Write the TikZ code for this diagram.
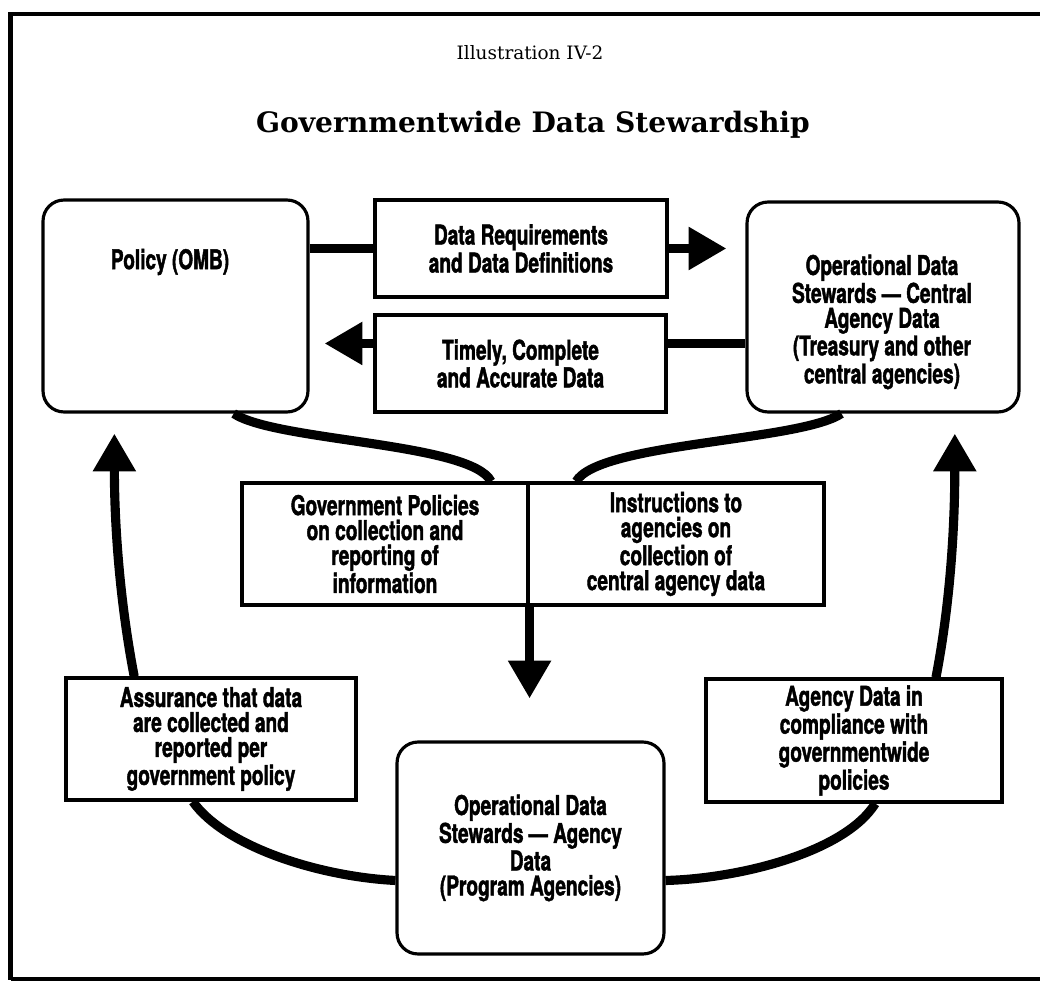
\documentclass[tikz,border=0pt]{standalone}
\usepackage{fontspec}
\usetikzlibrary{arrows.meta,calc}
% heavy condensed sans for the box texts, slab serif for the headings
\newfontfamily\boxfont[FakeStretch=0.7,FakeBold=1.5]{TeX Gyre Heros}
\newfontfamily\slabfont{DejaVu Serif}

\begin{document}
\begin{tikzpicture}[x=0.02cm, y=-0.02cm,
  lbl/.style={font=\boxfont\bfseries\fontsize{15.5}{14.2}\selectfont, align=center},
  rbox/.style={lbl, draw, line width=1.8pt, rounded corners=0.42cm, inner sep=0pt},
  sbox/.style={lbl, draw, line width=1.8pt, inner sep=0pt},
  link/.style={line width=5.2pt},
  flow/.style={link, -{Triangle[length=21.5pt, width=23.2pt]}},
  frame/.style={line width=2.8pt},
]
\useasboundingbox (0,0) rectangle (1040,982);

% outer frame
\draw[frame] (1040,14) -- (10.5,14) -- (10.5,980);
\draw[line width=1.8pt] (10.5,979) -- (1040,979);

% headings
\node[font=\slabfont\fontsize{10.5}{12}\selectfont] (ill) at (530,53) {Illustration IV-2};
\node[font=\slabfont\bfseries\fontsize{16}{19}\selectfont] (title) at (533,125) {Governmentwide Data Stewardship};

% upper row
\node[rbox, minimum width=5.30cm, minimum height=4.24cm] (policy) at (175.5,306) {};
\node[lbl] (policytxt) at (170,262) {Policy (OMB)};
\node[sbox, minimum width=5.84cm, minimum height=1.94cm] (req) at (521,248.5) {Data Requirements\\and Data Definitions};
\node[sbox, minimum width=5.82cm, minimum height=1.94cm] (tim) at (520.5,363.5) {Timely, Complete\\and Accurate Data};
\node[rbox, minimum width=5.44cm, minimum height=4.20cm] (central) at (883,307) {};
\node[lbl] (centraltxt) at (882,322) {Operational Data\\Stewards \textemdash\ Central\\Agency Data\\(Treasury and other\\central agencies)};

% middle pair
\node[sbox, minimum width=5.72cm, minimum height=2.44cm] (gov) at (385,544) {Government Policies\\on collection and\\reporting of\\information};
\node[sbox, minimum width=5.92cm, minimum height=2.44cm] (inst) at (676,544) {Instructions to\\agencies on\\collection of\\central agency data};

% lower row
\node[sbox, minimum width=5.80cm, minimum height=2.44cm] (assur) at (211,739) {Assurance that data\\are collected and\\reported per\\government policy};
\node[sbox, minimum width=5.92cm, minimum height=2.46cm] (agency) at (854,740.5) {Agency Data in\\compliance with\\governmentwide\\policies};
\node[rbox, minimum width=5.34cm, minimum height=4.24cm] (prog) at (530.5,848) {Operational Data\\Stewards \textemdash\ Agency\\Data\\(Program Agencies)};

% horizontal flows between policy and central agencies
\coordinate (tline) at ($(tim.north east)!0.3!(tim.south east)$);
\draw[link] (policy.east |- req.west) -- (req.west);
\draw[flow, shorten >=0.38cm] (req.east) -- (central.west |- req.east);
\draw[link] (central.west |- tline) -- (tline);
\draw[flow, shorten >=0.30cm] (tim.west |- tline) -- (policy.east |- tline);

% both upper boxes feed the middle pair
\draw[link] ($(policy.south west)!0.717!(policy.south east)$) .. controls +(42,28) and +(-20,-39) .. ($(gov.north west)!0.867!(gov.north east)$);
\draw[link] ($(inst.north west)!0.166!(inst.north east)$) .. controls +(23,-39) and +(-42,28) .. ($(central.south west)!0.349!(central.south east)$);

% middle pair down to program agencies
\draw[flow, shorten >=0.84cm] (gov.south east) -- (gov.south east |- prog.north);

% program agencies out to the side boxes
\draw[link] ($(assur.south west)!0.438!(assur.south east)$) .. controls +(32,45) and +(-77,-4) .. ($(prog.north west)!0.651!(prog.south west)$);
\draw[link] ($(prog.north east)!0.651!(prog.south east)$) .. controls +(76,-2) and +(-30,48) .. ($(agency.south west)!0.571!(agency.south east)$);

% side boxes back up to the upper row
\draw[flow, shorten >=0.40cm] ($(assur.north west)!0.238!(assur.north east)$) .. controls +(-15,-78) and +(0,108) .. ($(policy.south west)!0.272!(policy.south east)$);
\draw[flow, shorten >=0.40cm] ($(agency.north west)!0.774!(agency.north east)$) .. controls +(15,-78) and +(0,108) .. ($(central.south west)!0.761!(central.south east)$);
\end{tikzpicture}
\end{document}
